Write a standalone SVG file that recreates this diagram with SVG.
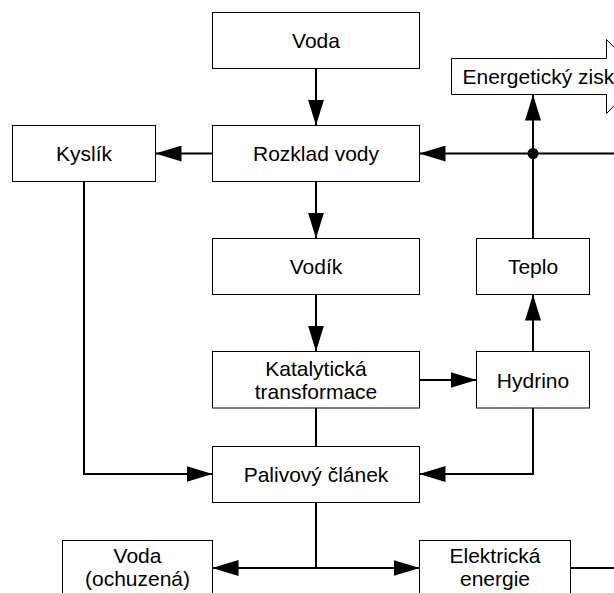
<svg xmlns="http://www.w3.org/2000/svg" width="614" height="593" viewBox="0 0 614 593">
<style>
.box{fill:#fff;stroke:#000;stroke-width:1}
.t{font-family:"Liberation Sans",Arial,sans-serif;font-size:21px;fill:#000;text-anchor:middle}
.c{fill:none;stroke:#000;stroke-width:2}
</style>
<defs>
<marker id="ah" markerUnits="userSpaceOnUse" markerWidth="26" markerHeight="16" refX="26" refY="8" orient="auto" viewBox="0 0 26 16">
<path d="M0,0 L26,8 L0,16 z" fill="#000"/>
</marker>
</defs>
<rect width="614" height="593" fill="#fff"/>
<g id="connectors">
<path class="c" d="M316 68.5 V125.5" marker-end="url(#ah)"/>
<path class="c" d="M212.5 153.5 H155.5" marker-end="url(#ah)"/>
<path class="c" d="M614 153.5 H419.5" marker-end="url(#ah)"/>
<path class="c" d="M316 181.5 V238.5" marker-end="url(#ah)"/>
<path class="c" d="M316 294.5 V351.5" marker-end="url(#ah)"/>
<path class="c" d="M419.5 380 H476.5" marker-end="url(#ah)"/>
<path class="c" d="M533 351.5 V294.5" marker-end="url(#ah)"/>
<path class="c" d="M533 238.5 V94.5" marker-end="url(#ah)"/>
<path class="c" d="M316 407.5 V446.5"/>
<path class="c" d="M84 181.5 V474 H212.5" marker-end="url(#ah)"/>
<path class="c" d="M533 407.5 V474 H419.5" marker-end="url(#ah)"/>
<path class="c" d="M316 502.5 V568"/>
<path class="c" d="M316 568 H212.5" marker-end="url(#ah)"/>
<path class="c" d="M316 568 H419.5" marker-end="url(#ah)"/>
<path class="c" d="M570.5 568 H614"/>
<circle cx="533" cy="153.5" r="5.5" fill="#000"/>
</g>
<g id="energeticky-zisk">
<polygon class="box" points="451.5,58.5 606.5,58.5 606.5,39.5 643,76.5 606.5,113.5 606.5,94.5 451.5,94.5"/>
<text class="t" x="462.5" y="83.5" style="text-anchor:start">Energetický zisk</text>
</g>
<g id="voda">
<rect class="box" x="212.5" y="12.5" width="207" height="56"/>
<text class="t" x="316" y="47.5">Voda</text>
</g>
<g id="rozklad-vody">
<rect class="box" x="212.5" y="125.5" width="207" height="56"/>
<text class="t" x="316" y="161">Rozklad vody</text>
</g>
<g id="kyslik">
<rect class="box" x="12.5" y="125.5" width="143" height="56"/>
<text class="t" x="84" y="161">Kyslík</text>
</g>
<g id="vodik">
<rect class="box" x="212.5" y="238.5" width="207" height="56"/>
<text class="t" x="316" y="274">Vodík</text>
</g>
<g id="teplo">
<rect class="box" x="476.5" y="238.5" width="113" height="56"/>
<text class="t" x="533" y="274">Teplo</text>
</g>
<g id="katalyticka-transformace">
<rect class="box" x="212.5" y="351.5" width="207" height="56.5"/>
<text class="t" x="316" y="375.5">Katalytická</text>
<text class="t" x="316" y="399">transformace</text>
</g>
<g id="hydrino">
<rect class="box" x="476.5" y="351.5" width="113" height="56.5"/>
<text class="t" x="533" y="387.5">Hydrino</text>
</g>
<g id="palivovy-clanek">
<rect class="box" x="212.5" y="446.5" width="207" height="56"/>
<text class="t" x="316" y="481.5">Palivový článek</text>
</g>
<g id="voda-ochuzena">
<rect class="box" x="62.5" y="540.5" width="150" height="56"/>
<text class="t" x="137.5" y="562.5">Voda</text>
<text class="t" x="137.5" y="586">(ochuzená)</text>
</g>
<g id="elektricka-energie">
<rect class="box" x="419.5" y="540.5" width="151" height="56"/>
<text class="t" x="495" y="562.5">Elektrická</text>
<text class="t" x="495" y="586">energie</text>
</g>
</svg>
